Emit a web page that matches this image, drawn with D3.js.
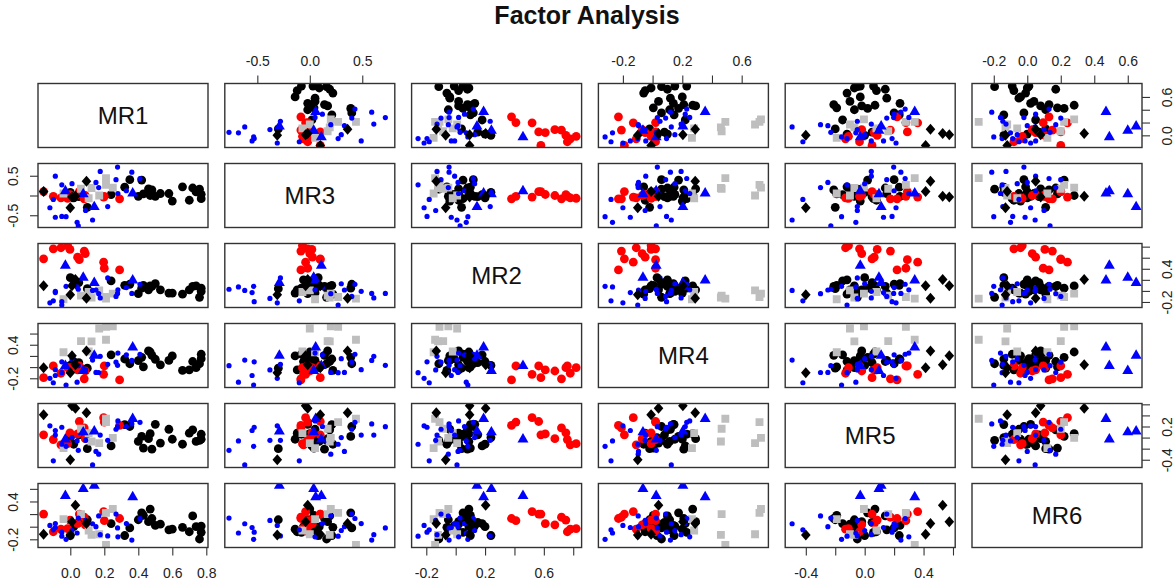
<!DOCTYPE html>
<html>
<head>
<meta charset="utf-8">
<script src="https://cdn.jsdelivr.net/npm/d3@7"></script>
<style>
  body { margin: 0; background: #fff; }
</style>
</head>
<body>
<div id="vis"></div>
<script>
// factor order in the matrix
let factors = ['MR1', 'MR3', 'MR2', 'MR4', 'MR5', 'MR6'];

// loadings per item, columns: MR1, MR3, MR2, MR4, MR5, MR6
let blackCircles = [
  [0.77, 0.03, -0.01, 0.15, -0.03, 0.01],
  [0.77, -0.08, 0.05, 0.23, 0.06, -0.09],
  [0.76, 0.16, -0.115, 0.06, -0.05, -0.195],
  [0.74, 0.09, 0.09, -0.01, -0.07, 0.0],
  [0.72, 0.19, 0.08, 0.10, 0.14, 0.17],
  [0.70, -0.12, 0.02, -0.05, 0.08, -0.08],
  [0.66, 0.22, -0.06, -0.06, -0.12, -0.01],
  [0.60, -0.14, -0.04, 0.20, -0.03, -0.04],
  [0.58, 0.05, -0.04, 0.12, 0.15, -0.05],
  [0.53, 0.05, 0.02, 0.04, -0.10, 0.04],
  [0.50, -0.02, 0.13, 0.14, 0.24, 0.02],
  [0.48, 0.14, 0.08, 0.21, -0.21, 0.13],
  [0.47, 0.0, 0.09, 0.27, 0.07, 0.28],
  [0.46, 0.17, 0.02, 0.29, -0.02, 0.08],
  [0.43, 0.04, 0.10, 0.005, -0.19, 0.18],
  [0.42, 0.39, 0.05, 0.175, 0.02, 0.22],
  [0.40, -0.02, -0.05, 0.115, -0.07, 0.11],
  [0.35, 0.40, 0.12, 0.06, 0.20, -0.02],
  [0.32, 0.21, 0.10, 0.145, 0.235, -0.14],
  [0.24, 0.02, 0.18, 0.22, -0.15, 0.05],
  [0.10, -0.30, 0.04, -0.02, -0.20, 0.11],
  [0.05, -0.03, 0.15, 0.08, 0.05, 0.07],
  [0.02, -0.06, 0.20, 0.10, -0.12, 0.0],
  [0.0, 0.08, 0.24, 0.03, 0.0, -0.14]
];

let redCircles = [
  [-0.157, 0.10, 0.58, -0.19, 0.05, 0.20],
  [-0.10, -0.02, 0.76, 0.02, -0.035, -0.08],
  [-0.055, -0.06, 0.78, -0.11, -0.13, -0.04],
  [-0.016, -0.07, 0.82, -0.01, -0.11, -0.03],
  [-0.002, 0.02, 0.75, -0.01, 0.085, 0.105],
  [0.043, 0.025, 0.61, -0.05, 0.065, 0.05],
  [0.053, 0.10, 0.565, 0.02, 0.29, 0.20],
  [0.082, -0.085, 0.72, -0.21, 0.175, 0.15],
  [0.088, 0.0, 0.675, -0.07, -0.02, 0.03],
  [0.196, -0.04, 0.52, -0.13, 0.36, 0.24],
  [0.20, -0.02, 0.41, 0.02, 0.28, 0.095],
  [0.29, -0.085, 0.38, -0.23, 0.22, 0.13]
];

let graySquares = [
  [0.25, 0.20, -0.05, 0.73, -0.005, 0.28],
  [0.21, 0.27, -0.11, 0.72, 0.28, 0.22],
  [0.17, 0.0, 0.01, 0.69, -0.10, -0.12],
  [0.21, 0.44, -0.14, 0.49, 0.34, -0.29],
  [0.063, 0.17, -0.085, 0.465, 0.16, 0.20],
  [0.125, 0.19, -0.12, 0.46, -0.07, -0.13],
  [0.108, -0.07, -0.02, 0.28, 0.08, -0.06],
  [-0.04, 0.05, -0.15, 0.265, -0.19, 0.12]
];

let blueDots = [
  [0.278, 0.72, -0.045, 0.032, 0.197, -0.02],
  [0.176, 0.61, -0.127, 0.192, 0.045, -0.127],
  [0.362, 0.59, -0.045, 0.12, 0.246, -0.212],
  [-0.088, 0.49, -0.007, -0.046, 0.045, 0.05],
  [0.41, 0.43, 0.12, 0.23, 0.275, 0.13],
  [0.269, 0.40, -0.10, 0.088, 0.15, 0.20],
  [0.151, 0.33, 0.016, -0.095, -0.25, 0.0],
  [0.01, 0.30, 0.129, 0.15, 0.0, -0.06],
  [-0.05, 0.27, -0.256, -0.10, -0.12, -0.15],
  [0.167, 0.20, -0.05, -0.097, -0.30, 0.17],
  [0.33, 0.12, 0.06, 0.22, 0.20, 0.05],
  [0.22, -0.28, 0.235, 0.05, -0.05, -0.146],
  [-0.12, -0.31, -0.215, -0.20, 0.213, 0.02],
  [0.09, -0.38, -0.136, -0.05, -0.05, 0.10],
  [-0.05, -0.53, -0.195, 0.094, 0.186, -0.087],
  [-0.025, -0.535, 0.083, -0.32, -0.157, -0.20],
  [-0.088, -0.55, -0.03, -0.15, 0.128, -0.013],
  [0.131, -0.62, 0.009, 0.126, -0.493, 0.047],
  [0.04, -0.68, 0.072, -0.27, -0.06, -0.10],
  [0.047, -0.77, 0.03, 0.025, -0.23, 0.136],
  [-0.10, -0.10, -0.18, -0.28, -0.42, -0.05],
  [0.28, 0.05, 0.02, 0.25, 0.30, -0.16]
];

let blueTriangles = [
  [0.367, 0.056, 0.19, 0.354, 0.34, 0.47],
  [-0.029, 0.11, 0.458, 0.024, -0.03, 0.49],
  [0.076, 0.037, 0.243, -0.065, 0.097, 0.60],
  [0.141, -0.29, 0.145, 0.204, 0.112, 0.65]
];

let blackDiamonds = [
  [0.0, -0.31, -0.068, -0.10, -0.40, -0.13],
  [-0.157, 0.10, 0.095, -0.01, 0.414, -0.12],
  [0.095, 0.36, -0.132, 0.287, 0.447, 0.05],
  [0.03, -0.02, 0.204, 0.04, 0.53, 0.34],
  [0.01, -0.04, 0.095, 0.204, 0.575, 0.08]
];

// axis ranges per factor
let domains = [[-0.19, 0.81], [-0.81, 0.81], [-0.30, 0.857], [-0.365, 0.78], [-0.54, 0.615], [-0.33, 0.685]];

// ticks on the top / bottom axes
let xTicks = [
  [0, 0.2, 0.4, 0.6, 0.8],
  [-0.5, 0, 0.5],
  [-0.2, 0, 0.2, 0.4, 0.6, 0.8],
  [-0.2, 0, 0.2, 0.4, 0.6],
  [-0.4, -0.2, 0, 0.2, 0.4, 0.6],
  [-0.2, 0, 0.2, 0.4, 0.6]
];
let xTickLabels = [
  ['0.0', '0.2', '0.4', '0.6', '0.8'],
  ['-0.5', '0.0', '0.5'],
  ['-0.2', '', '0.2', '', '0.6', ''],
  ['-0.2', '', '0.2', '', '0.6'],
  ['-0.4', '', '0.0', '', '0.4', ''],
  ['-0.2', '0.0', '0.2', '0.4', '0.6']
];
// ticks on the left / right axes
let yTicks = [
  [0, 0.2, 0.4, 0.6],
  [-0.5, 0, 0.5],
  [-0.2, 0, 0.2, 0.4, 0.6, 0.8],
  [-0.2, 0, 0.2, 0.4, 0.6],
  [-0.4, -0.2, 0, 0.2, 0.4, 0.6],
  [-0.2, 0, 0.2, 0.4, 0.6]
];
let yTickLabels = [
  ['0.0', '', '', '0.6'],
  ['-0.5', '', '0.5'],
  ['-0.2', '', '', '0.4', '', ''],
  ['-0.2', '', '', '0.4', ''],
  ['-0.4', '', '', '0.2', '', ''],
  ['-0.2', '', '', '0.4', '']
];

let width = 1174, height = 585;
let marginLeft = 38, marginTop = 83.5, cellW = 170, cellH = 64, stepX = 186.8, stepY = 80;
let font = '"Liberation Sans", Arial, sans-serif';

let svg = d3.select('#vis')
  .append('svg')
  .attr('width', width)
  .attr('height', height)
  .style('background-color', 'white')

svg.append('text')
  .attr('x', width / 2)
  .attr('y', 24)
  .attr('text-anchor', 'middle')
  .attr('font-family', font)
  .attr('font-weight', 'bold')
  .attr('font-size', 25)
  .attr('fill', '#111')
  .text('Factor Analysis')

// scales per factor, for x (column) and y (row)
let xScales = factors.map((f, j) => d3.scaleLinear().domain(domains[j]).range([marginLeft + j * stepX, marginLeft + j * stepX + cellW]))
let yScales = factors.map((f, i) => d3.scaleLinear().domain(domains[i]).range([marginTop + i * stepY + cellH, marginTop + i * stepY]))

let diamondPath = 'M0,-5.5L4.8,0L0,5.5L-4.8,0Z'
let groups = [
  { data: blackCircles, color: '#000000', shape: 'circle', r: 4.4 },
  { data: redCircles, color: '#ff0000', shape: 'circle', r: 4.4 },
  { data: graySquares, color: '#bebebe', shape: 'square' },
  { data: blueDots, color: '#0000ff', shape: 'circle', r: 2.6 },
  { data: blueTriangles, color: '#0000ff', shape: 'triangle' },
  { data: blackDiamonds, color: '#000000', shape: 'diamond' }
]

let defs = svg.append('defs')

factors.forEach((fy, i) => {
  factors.forEach((fx, j) => {
    let x0 = marginLeft + j * stepX, y0 = marginTop + i * stepY
    let cell = svg.append('g')

    if (i === j) {
      cell.append('text')
        .attr('x', x0 + cellW / 2)
        .attr('y', y0 + cellH / 2)
        .attr('dy', '0.36em')
        .attr('text-anchor', 'middle')
        .attr('font-family', font)
        .attr('font-size', 24)
        .attr('fill', '#111')
        .text(fx)
    } else {
      let clipId = 'clip-' + i + '-' + j
      defs.append('clipPath').attr('id', clipId)
        .append('rect').attr('x', x0).attr('y', y0).attr('width', cellW).attr('height', cellH)
      let pts = cell.append('g').attr('clip-path', 'url(#' + clipId + ')')
      let xs = xScales[j], ys = yScales[i]

      groups.forEach(grp => {
        let sel = pts.selectAll(null).data(grp.data)
        if (grp.shape === 'circle') {
          sel.enter().append('circle')
            .attr('cx', d => xs(d[j]))
            .attr('cy', d => ys(d[i]))
            .attr('r', grp.r)
            .attr('fill', grp.color)
        } else {
          let path = grp.shape === 'square' ? d3.symbol(d3.symbolSquare, 62)()
            : grp.shape === 'triangle' ? d3.symbol(d3.symbolTriangle, 52)()
            : diamondPath
          sel.enter().append('path')
            .attr('d', path)
            .attr('transform', d => 'translate(' + xs(d[j]) + ',' + ys(d[i]) + ')')
            .attr('fill', grp.color)
        }
      })
    }

    cell.append('rect')
      .attr('x', x0)
      .attr('y', y0)
      .attr('width', cellW)
      .attr('height', cellH)
      .attr('fill', 'none')
      .attr('stroke', '#333')
      .attr('stroke-width', 1.4)
  })
})

function styleAxis(g) {
  g.attr('font-family', font).attr('font-size', 14)
  g.select('.domain').remove()
  g.selectAll('line').attr('stroke', '#333').attr('stroke-width', 1.1)
  g.selectAll('text').attr('fill', '#222')
}

// top and bottom axes, alternating
factors.forEach((f, j) => {
  let fmt = (d, k) => xTickLabels[j][k]
  if (j % 2 === 0) {
    let g = svg.append('g')
      .attr('transform', 'translate(0,' + (marginTop + 5 * stepY + cellH) + ')')
      .call(d3.axisBottom(xScales[j]).tickValues(xTicks[j]).tickFormat(fmt).tickSize(8).tickSizeOuter(0))
    styleAxis(g)
    g.selectAll('text').attr('y', 25).attr('dy', '0.36em')
  } else {
    let g = svg.append('g')
      .attr('transform', 'translate(0,' + marginTop + ')')
      .call(d3.axisTop(xScales[j]).tickValues(xTicks[j]).tickFormat(fmt).tickSize(8).tickSizeOuter(0))
    styleAxis(g)
    g.selectAll('text').attr('y', -23).attr('dy', '0.36em')
  }
})

// left and right axes, alternating, labels turned
factors.forEach((f, i) => {
  let fmt = (d, k) => yTickLabels[i][k]
  if (i % 2 === 1) {
    let g = svg.append('g')
      .attr('transform', 'translate(' + marginLeft + ',0)')
      .call(d3.axisLeft(yScales[i]).tickValues(yTicks[i]).tickFormat(fmt).tickSize(8).tickSizeOuter(0))
    styleAxis(g)
    g.selectAll('text')
      .attr('x', null).attr('dy', '0.36em')
      .attr('text-anchor', 'middle')
      .attr('transform', 'translate(-25,0) rotate(-90)')
  } else {
    let g = svg.append('g')
      .attr('transform', 'translate(' + (marginLeft + 5 * stepX + cellW) + ',0)')
      .call(d3.axisRight(yScales[i]).tickValues(yTicks[i]).tickFormat(fmt).tickSize(8).tickSizeOuter(0))
    styleAxis(g)
    g.selectAll('text')
      .attr('x', null).attr('dy', '0.36em')
      .attr('text-anchor', 'middle')
      .attr('transform', 'translate(25,0) rotate(-90)')
  }
})
</script>
</body>
</html>
